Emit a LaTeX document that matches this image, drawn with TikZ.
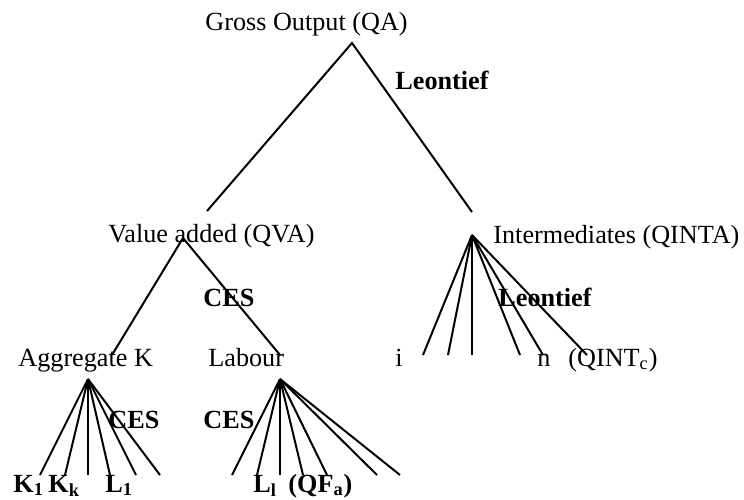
\documentclass[tikz,border=0pt]{standalone}
\usepackage{fontspec}
\setmainfont{Liberation Serif}
\begin{document}
\begin{tikzpicture}[x=0.5pt,y=-0.5pt,
  lab/.style={anchor=base west,inner sep=0pt,font=\fontsize{13.1}{15}\selectfont},
  blab/.style={lab,font=\fontsize{13.1}{15}\selectfont\bfseries},
  br/.style={line width=1pt,line cap=butt}]
\useasboundingbox (0,0) rectangle (744,499);
% labels
\node[lab]  (go)  at (205,30)  {Gross Output (QA)};
\node[blab] (leo1) at (395,89) {Leontief};
\node[lab]  (va)  at (108,242) {Value added (QVA)};
\node[lab]  (int) at (493,243) {Intermediates (QINTA)};
\node[blab] (ces1) at (203,306) {CES};
\node[blab] (leo2) at (498,306) {Leontief};
\node[lab]  (ak)  at (18,366)  {Aggregate K};
\node[lab]  (lab) at (208,366) {Labour};
\node[lab]  (ii)  at (395,366) {i};
\node[lab]  (nn)  at (537,366) {n};
\node[lab]  (qint) at (568,366) {(QINT\textsubscript{c})};
\node[blab] (ces2) at (108,428) {CES};
\node[blab] (ces3) at (203,428) {CES};
\node[blab] (k1)  at (13,492)  {K\textsubscript{1}};
\node[blab] (kk)  at (48,492)  {K\textsubscript{k}};
\node[blab] (l1)  at (105,492) {L\textsubscript{1}};
\node[blab] (ll)  at (253,492) {L\textsubscript{l}};
\node[blab] (qf)  at (288,492) {(QF\textsubscript{a})};
% apexes
\coordinate (ta) at (352,43);
\coordinate (tl) at (207,211);
\coordinate (tr) at (472,212);
\coordinate (va0) at (183,238);
\coordinate (int0) at (472,235);
\coordinate (k0) at (88,379);
\coordinate (l0) at (280,379);
% top
\draw[br] (tl) -- (ta) -- (tr);
% value added
\draw[br] (va0) -- (112,355) coordinate (vaL);
\draw[br] (va0) -- (280,355) coordinate (vaR);
% intermediates fan
\foreach \x [count=\i] in {423,448,472,520,543,587}
  \draw[br] (int0) -- (\x,355) coordinate (ie\i);
% capital fan
\foreach \x [count=\i] in {40,65,88,110,136,160}
  \draw[br] (k0) -- (\x,475) coordinate (ke\i);
% labour fan
\foreach \x [count=\i] in {232,257,280,303,327,377,400}
  \draw[br] (l0) -- (\x,475) coordinate (le\i);
\end{tikzpicture}
\end{document}
